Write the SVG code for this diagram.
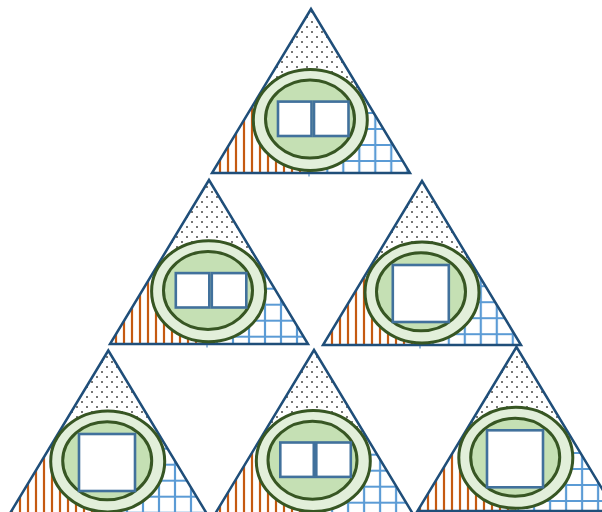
<svg xmlns="http://www.w3.org/2000/svg" width="602" height="512" viewBox="0 0 602 512">
<defs>
<pattern id="dots" patternUnits="userSpaceOnUse" width="10" height="10"><rect x="1" y="1" width="2" height="2" fill="#767676"/><rect x="6" y="6" width="2" height="2" fill="#767676"/></pattern>
<pattern id="vlines" patternUnits="userSpaceOnUse" width="8" height="8"><rect x="2.9" y="0" width="2.2" height="8" fill="#c55a11"/></pattern>
<pattern id="g1" patternUnits="userSpaceOnUse" x="-0.7" y="-7" width="16" height="16"><path d="M8 0V16M0 8H16" stroke="#5b9bd5" stroke-width="2.2"/></pattern>
<pattern id="g2" patternUnits="userSpaceOnUse" x="1" y="-7.3" width="16" height="16"><path d="M8 0V16M0 8H16" stroke="#5b9bd5" stroke-width="2.2"/></pattern>
<pattern id="g3" patternUnits="userSpaceOnUse" x="-7.2" y="6.2" width="16" height="16"><path d="M8 0V16M0 8H16" stroke="#5b9bd5" stroke-width="2.2"/></pattern>
<pattern id="g4" patternUnits="userSpaceOnUse" x="7" y="-7.3" width="16" height="16"><path d="M8 0V16M0 8H16" stroke="#5b9bd5" stroke-width="2.2"/></pattern>
<pattern id="g5" patternUnits="userSpaceOnUse" x="4.1" y="-1.3" width="16" height="16"><path d="M8 0V16M0 8H16" stroke="#5b9bd5" stroke-width="2.2"/></pattern>
<pattern id="g6" patternUnits="userSpaceOnUse" x="-1.9" y="-3" width="16" height="16"><path d="M8 0V16M0 8H16" stroke="#5b9bd5" stroke-width="2.2"/></pattern>
</defs>
<style>
.top{fill:url(#dots)}
.bl{fill:url(#vlines)}
.tri{fill:none;stroke:#1f4e79;stroke-width:2.5;stroke-linejoin:miter}
.outer{fill:#e2efda;stroke:#375623;stroke-width:3}
.inner{fill:#c5e0b4;stroke:#375623;stroke-width:3}
.sq{fill:#ffffff;stroke:#41719c;stroke-width:2.6}
.tick{stroke:#2e75b6;stroke-width:1}
</style>
<rect width="602" height="512" fill="#ffffff"/>

<g id="t1">
<polygon class="top" points="311,9 261.5,91 360.5,91"/>
<polygon class="bl" points="261.5,91 212,173 311,173"/>
<polygon fill="url(#g1)" points="360.5,91 311,173 410,173"/>
<polygon class="tri" points="311,9 212,173 410,173"/>
<line class="tick" x1="309" y1="174" x2="309" y2="176.5"/>
<ellipse class="outer" cx="310.3" cy="120" rx="57" ry="50.5"/>
<ellipse class="inner" cx="310" cy="119" rx="44.5" ry="39"/>
<rect class="sq" x="278" y="101.6" width="33.5" height="34.4"/>
<rect class="sq" x="314" y="101.6" width="34.5" height="34.4"/>
</g>

<g id="t2">
<polygon class="top" points="209,180 159.5,262 258.5,262"/>
<polygon class="bl" points="159.5,262 110,344 209,344"/>
<polygon fill="url(#g2)" points="258.5,262 209,344 308,344"/>
<polygon class="tri" points="209,180 110,344 308,344"/>
<line class="tick" x1="207" y1="345" x2="207" y2="347.5"/>
<ellipse class="outer" cx="208.6" cy="291.2" rx="57" ry="50.5"/>
<ellipse class="inner" cx="208" cy="290.5" rx="44.5" ry="39"/>
<rect class="sq" x="175.8" y="273.1" width="33.5" height="34.4"/>
<rect class="sq" x="211.8" y="273.1" width="34.5" height="34.4"/>
</g>

<g id="t3">
<polygon class="top" points="422,181 372.5,263 471.5,263"/>
<polygon class="bl" points="372.5,263 323,345 422,345"/>
<polygon fill="url(#g3)" points="471.5,263 422,345 521,345"/>
<polygon class="tri" points="422,181 323,345 521,345"/>
<line class="tick" x1="420" y1="346" x2="420" y2="348.5"/>
<ellipse class="outer" cx="422" cy="292.4" rx="57" ry="50.5"/>
<ellipse class="inner" cx="421" cy="291.8" rx="44.5" ry="39"/>
<rect class="sq" x="392.8" y="265" width="56" height="57"/>
</g>

<g id="t4">
<polygon class="top" points="108.3,350.5 58.8,432.5 157.8,432.5"/>
<polygon class="bl" points="58.8,432.5 9.3,514.5 108.3,514.5"/>
<polygon fill="url(#g4)" points="157.8,432.5 108.3,514.5 207.3,514.5"/>
<polygon class="tri" points="108.3,350.5 9.3,514.5 207.3,514.5"/>
<ellipse class="outer" cx="107.7" cy="461.4" rx="57" ry="50.5"/>
<ellipse class="inner" cx="107.2" cy="460.7" rx="44.5" ry="39"/>
<rect class="sq" x="79" y="434" width="56" height="57"/>
</g>

<g id="t5">
<polygon class="top" points="314,350 264.5,432 363.5,432"/>
<polygon class="bl" points="264.5,432 215,514 314,514"/>
<polygon fill="url(#g5)" points="363.5,432 314,514 413,514"/>
<polygon class="tri" points="314,350 215,514 413,514"/>
<ellipse class="outer" cx="313.3" cy="461" rx="57" ry="50.5"/>
<ellipse class="inner" cx="312.5" cy="460.3" rx="44.5" ry="39"/>
<rect class="sq" x="280.3" y="442.5" width="33.5" height="34.4"/>
<rect class="sq" x="316.3" y="442.5" width="34.5" height="34.4"/>
</g>

<g id="t6">
<polygon class="top" points="516.5,347 467,429 566,429"/>
<polygon class="bl" points="467,429 417.5,511 516.5,511"/>
<polygon fill="url(#g6)" points="566,429 516.5,511 615.5,511"/>
<polygon class="tri" points="516.5,347 417.5,511 615.5,511"/>
<ellipse class="outer" cx="515.8" cy="457.8" rx="57" ry="50.5"/>
<ellipse class="inner" cx="515.2" cy="457.3" rx="44.5" ry="39"/>
<rect class="sq" x="487" y="430.3" width="56" height="57"/>
</g>
</svg>
